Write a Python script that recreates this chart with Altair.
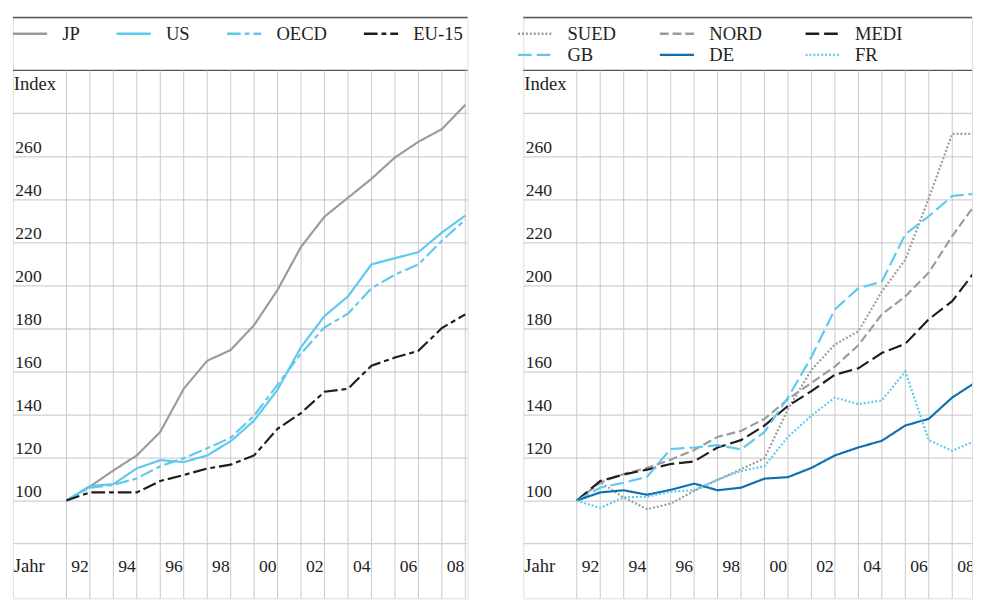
import altair as alt
import pandas as pd

# ---------------- data ----------------
years = list(range(1991, 2009))

left_names = ["JP", "US", "OECD", "EU-15"]
jp = [100, 106.5, 114, 121, 131.9, 152, 165, 170, 181.6, 198, 218, 232, 240.8, 249.6, 259.5, 266.8, 272.7, 284]
us = [100, 106.8, 107.6, 115, 118.8, 117.9, 121, 127.6, 137.2, 151.6, 171.4, 185.8, 194.9, 209.8, 212.7, 215.5, 224.6, 232.5]
oecd = [100, 106, 107.3, 110.3, 116, 119.7, 124.3, 129.2, 139.5, 153.9, 168.4, 180.5, 186.9, 198.7, 205, 209.8, 220.8, 230.6]
eu15 = [100, 103.8, 103.8, 103.8, 109.1, 111.9, 114.9, 116.7, 121, 133.4, 140.7, 150.6, 152, 162.7, 166.5, 169.6, 180.2, 186.6]

right_names = ["SUED", "NORD", "MEDI", "GB", "DE", "FR"]
sued = [100, 108.5, 101.5, 96, 98.6, 104.5, 109.6, 114.6, 119.7, 142.5, 160.8, 172.6, 178.7, 197.2, 212, 240.5, 270.5, 270.5]
nord = [100, 108.3, 112.4, 115.2, 119, 123.5, 129.6, 132.4, 138, 147.1, 154.7, 162.3, 172.2, 186.6, 194.9, 206, 223, 238]
medi = [100, 109.1, 112.1, 114.4, 117, 118.2, 124.7, 128.1, 134.9, 144, 150.9, 158.5, 161.5, 168.6, 172.9, 184.3, 192.7, 207]
gb = [100, 106, 108.3, 111.1, 124, 124.7, 125.8, 123.8, 131.9, 147.9, 166.8, 188.9, 198.7, 201.8, 223.8, 232.2, 241.6, 242.7]
de = [100, 103.8, 104.8, 102.7, 105, 107.9, 104.8, 106, 110.2, 110.9, 115.2, 121, 124.7, 127.8, 134.9, 138, 147.9, 155]
fr = [100, 96.6, 101.5, 101.8, 104.2, 104.8, 109.8, 113.7, 116, 129.6, 139.5, 147.9, 144.8, 146.6, 160, 128.1, 123.1, 128]

y_label_values = [100, 120, 140, 160, 180, 200, 220, 240, 260]
y_extra_grid = [80, 280]
x_label_years = [1992, 1994, 1996, 1998, 2000, 2002, 2004, 2006, 2008]
x_label_text = ["92", "94", "96", "98", "00", "02", "04", "06", "08"]
unit_label = "Index"
axis_label = "Jahr"

# ---------------- styling ----------------
FONT = "Liberation Serif"
TXT = "#222222"
GRAY = "#9b9b9b"
LBLUE = "#5ec8ef"
DBLUE = "#0d71b0"
BLACK = "#1e1e1e"
GRID = "#d0d0d0"
FRAME = "#555555"

left_colors = [GRAY, LBLUE, LBLUE, BLACK]
left_dashes = [[1, 0], [1, 0], [14, 4, 5, 4], [14, 4, 5, 4]]
right_colors = [GRAY, GRAY, BLACK, LBLUE, DBLUE, LBLUE]
right_dashes = [[2, 2], [9, 4], [14, 5], [14, 5], [1, 0], [2, 2]]

PX_PER_YEAR = 24.0
PX_PER_UNIT = 2.2
VIEW_H = 594
X_MIN = 1988.72
Y_FRAME = 300
Y_TOP = Y_FRAME + 54 / PX_PER_UNIT
Y_MIN = Y_TOP - VIEW_H / PX_PER_UNIT
LEFT_W = 465
RIGHT_W = 459


def long_df(names, series):
    rows = []
    for n, vals in zip(names, series):
        for yr, v in zip(years, vals):
            rows.append({"year": yr, "value": v, "series": n})
    return pd.DataFrame(rows)


def panel(df, names, colors, dashes, width, grid_years, cols, col_pad, legend_x):
    x_scale = alt.Scale(domain=[X_MIN, X_MIN + width / PX_PER_YEAR], nice=False, zero=False)
    y_scale = alt.Scale(domain=[Y_MIN, Y_TOP], nice=False, zero=False)
    y_axis = alt.Axis(values=y_label_values, grid=True, gridColor=GRID, gridWidth=1.3,
                      domain=False, ticks=False, title=None,
                      labelAlign="left", labelBaseline="alphabetic", labelPadding=-2,
                      labelOffset=-4.5, labelFont=FONT, labelFontSize=18, labelColor=TXT)
    legend = alt.Legend(title=None, orient="none", legendX=legend_x, legendY=6.5,
                        direction="horizontal", columns=cols, columnPadding=col_pad,
                        rowPadding=1.7, padding=0, clipHeight=20,
                        symbolType="stroke", symbolSize=1225, symbolStrokeWidth=2.4,
                        labelFont=FONT, labelFontSize=19, labelColor=TXT, labelOffset=14)

    extra = alt.Chart(pd.DataFrame({"value": y_extra_grid})).mark_rule(
        color=GRID, strokeWidth=1.3
    ).encode(y=alt.Y("value:Q", scale=y_scale, axis=y_axis))
    frame = alt.Chart(pd.DataFrame({"value": [Y_FRAME, Y_TOP]})).mark_rule(
        color=FRAME, strokeWidth=1.5
    ).encode(y=alt.Y("value:Q", scale=y_scale, axis=y_axis))
    vgrid = alt.Chart(pd.DataFrame({"year": grid_years})).mark_rule(
        color="#c9c9c9", strokeWidth=1
    ).encode(
        x=alt.X("year:Q", scale=x_scale, axis=None),
        y=alt.datum(Y_FRAME),
        y2=alt.datum(Y_MIN),
    )
    lines = alt.Chart(df).mark_line(clip=True, strokeWidth=2.2).encode(
        x=alt.X("year:Q", scale=x_scale, axis=None),
        y=alt.Y("value:Q", scale=y_scale, axis=y_axis),
        color=alt.Color("series:N", scale=alt.Scale(domain=names, range=colors), legend=legend),
        strokeDash=alt.StrokeDash("series:N", scale=alt.Scale(domain=names, range=dashes), legend=legend),
    )
    lab_df = pd.DataFrame({"year": x_label_years, "label": x_label_text})
    xlabels = alt.Chart(lab_df).mark_text(
        align="right", baseline="alphabetic", dx=-1, font=FONT, fontSize=18, color=TXT, clip=True
    ).encode(
        x=alt.X("year:Q", scale=x_scale, axis=None),
        y=alt.datum(67),
        text="label:N",
    )
    one = pd.DataFrame({"k": [0]})
    jahr = alt.Chart(one).mark_text(
        align="left", baseline="alphabetic", dx=1, font=FONT, fontSize=19, color=TXT
    ).encode(x=alt.datum(X_MIN), y=alt.datum(67), text=alt.value(axis_label))
    index = alt.Chart(one).mark_text(
        align="left", baseline="alphabetic", dx=1, dy=20, font=FONT, fontSize=19, color=TXT
    ).encode(x=alt.datum(X_MIN), y=alt.datum(Y_FRAME), text=alt.value(unit_label))
    return alt.layer(extra, frame, vgrid, lines, xlabels, jahr, index).properties(
        width=width, height=VIEW_H)


left = panel(long_df(left_names, [jp, us, oecd, eu15]), left_names, left_colors, left_dashes,
             LEFT_W, years, 4, 36, -1.5)
right = panel(long_df(right_names, [sued, nord, medi, gb, de, fr]), right_names, right_colors,
              right_dashes, RIGHT_W, years[:-1], 3, 43, -6.8)

chart = alt.hconcat(left, right, spacing=47).resolve_scale(
    x="independent", y="independent", color="independent", strokeDash="independent"
).resolve_legend(color="independent", strokeDash="independent").properties(
    padding={"left": 3, "top": 1, "right": 0, "bottom": 0}
).configure_view(stroke=None).configure(background="white")

chart.save("out.html", embed_options={"renderer": "svg", "actions": False})
